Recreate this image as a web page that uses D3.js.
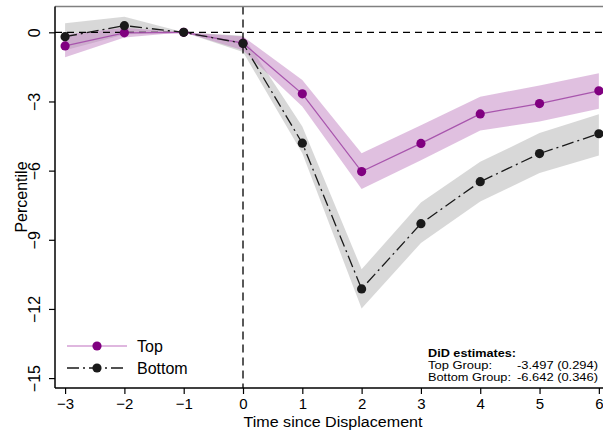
<!DOCTYPE html>
<html><head><meta charset="utf-8">
<script src="https://cdn.jsdelivr.net/npm/d3@7"></script>
<style>body{margin:0;background:#fff}svg{display:block;font-family:"Liberation Sans",Arial,sans-serif}</style>
</head><body><svg id="c" width="603" height="432"></svg>
<script>
const periods = [-3,-2,-1,0,1,2,3,4,5,6];
const topVals = [-0.59,-0.02,0,-0.47,-2.67,-6.04,-4.82,-3.54,-3.09,-2.54];
const topLo   = [-1.08,-0.22,0,-0.78,-3.22,-6.80,-5.55,-4.26,-3.87,-3.32];
const topHi   = [-0.10, 0.20,0,-0.18,-2.07,-5.25,-4.03,-2.79,-2.31,-1.78];
const botVals = [-0.19,0.29,0,-0.48,-4.81,-11.13,-8.30,-6.48,-5.26,-4.40];
const botLo   = [-0.78,-0.10,0,-0.85,-5.25,-11.98,-9.14,-7.34,-6.10,-5.34];
const botHi   = [0.39,0.68,0,-0.15,-4.09,-10.28,-7.38,-5.62,-4.37,-3.55];
const yTicks = [0,-3,-6,-9,-12,-15];
const xTicks = [-3,-2,-1,0,1,2,3,4,5,6];
const legendLabels = ["Top","Bottom"];
const didTitle = "DiD estimates:";
const didRows = [["Top Group:","-3.497 (0.294)"],["Bottom Group:","-6.642 (0.346)"]];

const svg = d3.select("#c");
const L=55, R=603, T=6.5, B=388;
const x = d3.scaleLinear().domain([-3.17,6.07]).range([L,R]);
const y = d3.scaleLinear().domain([-15.43,1.12]).range([B,T]);

const mk = (vals,lo,hi)=>periods.map((p,i)=>({p,v:vals[i],lo:lo[i],hi:hi[i]}));
const topD = mk(topVals,topLo,topHi), botD = mk(botVals,botLo,botHi);

const area = d3.area().x(d=>x(d.p)).y0(d=>y(d.lo)).y1(d=>y(d.hi));
const line = d3.line().x(d=>x(d.p)).y(d=>y(d.v));

// bands
svg.append("path").attr("d",area(botD)).attr("fill","rgb(178,178,178)").attr("fill-opacity",0.5);
svg.append("path").attr("d",area(topD)).attr("fill","rgb(193,129,193)").attr("fill-opacity",0.5);

// reference lines
svg.append("line").attr("x1",L).attr("x2",R).attr("y1",y(0)).attr("y2",y(0))
  .attr("stroke","#000").attr("stroke-width",1.3).attr("stroke-dasharray","7,5");
svg.append("line").attr("x1",x(0)).attr("x2",x(0)).attr("y1",T).attr("y2",B)
  .attr("stroke","#000").attr("stroke-width",1.3).attr("stroke-dasharray","8,5");

// lines
svg.append("path").attr("d",line(topD)).attr("fill","none").attr("stroke","#a855ad").attr("stroke-width",1.3);
svg.selectAll(".dt").data(topD).enter().append("circle").attr("cx",d=>x(d.p)).attr("cy",d=>y(d.v)).attr("r",4.6).attr("fill","#800080");
svg.append("path").attr("d",line(botD)).attr("fill","none").attr("stroke","#1a1a1a").attr("stroke-width",1.3).attr("stroke-dasharray","12,4,2,4");
svg.selectAll(".db").data(botD).enter().append("circle").attr("cx",d=>x(d.p)).attr("cy",d=>y(d.v)).attr("r",4.6).attr("fill","#1a1a1a");

// frame
svg.append("line").attr("x1",L).attr("x2",R).attr("y1",T).attr("y2",T).attr("stroke","#808080").attr("stroke-width",1.5);

// axes
const ya = svg.append("g").attr("transform",`translate(${L},0)`)
  .call(d3.axisLeft(y).tickValues(yTicks).tickSize(6).tickFormat(d3.format("d")));
ya.select(".domain").attr("d",`M0,${T}V${B}`).attr("stroke-width",1.5);
ya.selectAll(".tick line").attr("stroke-width",1.2);
ya.selectAll(".tick text").attr("transform","rotate(-90)").attr("x",0).attr("y",-15)
  .attr("dy","0").attr("text-anchor","middle").style("font-size","16px").style("font-family","Liberation Sans, Arial, sans-serif").attr("fill","#000");

const xa = svg.append("g").attr("transform",`translate(0,${B})`)
  .call(d3.axisBottom(x).tickValues(xTicks).tickSize(6).tickFormat(d3.format("d")));
xa.select(".domain").attr("d",`M${L},0H${R}`).attr("stroke-width",1.5);
xa.selectAll(".tick line").attr("stroke-width",1.2);
xa.selectAll(".tick text").attr("y",20.5).attr("dy","0").style("font-size","15px").style("font-family","Liberation Sans, Arial, sans-serif").attr("fill","#000");

// titles
svg.append("text").attr("x",333).attr("y",426.5).attr("text-anchor","middle").style("font-size","15.5px")
  .attr("textLength",179).attr("lengthAdjust","spacingAndGlyphs").text("Time since Displacement");
svg.append("text").attr("transform","translate(27,197) rotate(-90)").attr("text-anchor","middle").style("font-size","16px").text("Percentile");

// legend
const lg = svg.append("g");
const ly = [346,368];
lg.append("line").attr("x1",67).attr("x2",127).attr("y1",ly[0]).attr("y2",ly[0]).attr("stroke","#d49fd4").attr("stroke-width",1.6);
lg.append("circle").attr("cx",97).attr("cy",ly[0]).attr("r",4.6).attr("fill","#800080");
lg.append("line").attr("x1",67).attr("x2",127).attr("y1",ly[1]).attr("y2",ly[1]).attr("stroke","#1a1a1a").attr("stroke-width",1.3).attr("stroke-dasharray","12,4,2,4");
lg.append("circle").attr("cx",97).attr("cy",ly[1]).attr("r",4.6).attr("fill","#1a1a1a");
legendLabels.forEach((t,i)=>lg.append("text").attr("x",137).attr("y",ly[i]).attr("dy","0.36em").style("font-size","16px").text(t));

// DiD annotation
const an = svg.append("g").style("font-size","11px");
an.append("text").attr("x",428).attr("y",356.5).style("font-weight","bold")
  .attr("textLength",88).attr("lengthAdjust","spacingAndGlyphs").text(didTitle);
const labW = [64,83];
didRows.forEach((r,i)=>{
  an.append("text").attr("x",428).attr("y",368.9+i*12.4)
    .attr("textLength",labW[i]).attr("lengthAdjust","spacingAndGlyphs").text(r[0]);
  an.append("text").attr("x",598).attr("y",368.9+i*12.4).attr("text-anchor","end")
    .attr("textLength",81).attr("lengthAdjust","spacingAndGlyphs").text(r[1]);
});
</script></body></html>
